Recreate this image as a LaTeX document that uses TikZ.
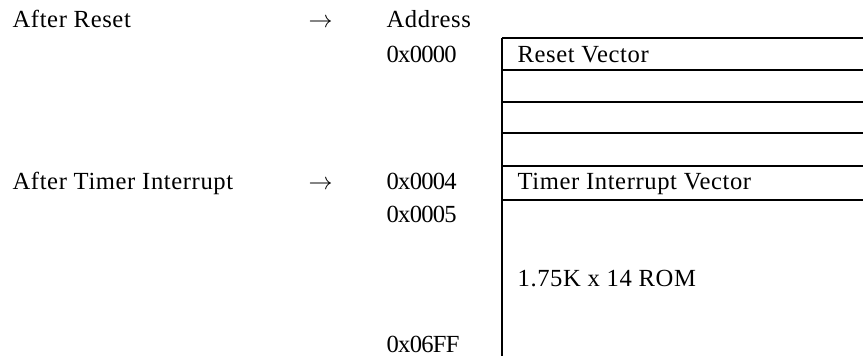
\documentclass[tikz,border=0pt]{standalone}
\usepackage{fontspec}
\setmainfont{Liberation Serif}[LetterSpace=2.5]
\usepackage{tikz}
\usetikzlibrary{positioning}

\begin{document}
\begin{tikzpicture}[
    x = 0.5pt, y = -0.5pt, % one unit per pixel
    semithick % line style
    ]

    \tikzset{
    lbl/.style = {anchor = base west, inner sep = 0pt, font = \fontsize{12.3}{14}\selectfont},
    addrlbl/.style = {lbl, font = \fontsize{12.3}{14}\selectfont\addfontfeature{LetterSpace=-3}},
    rowline/.style = {line width = 0.85pt}
    }

    \useasboundingbox (0,0) rectangle (863,356);

    % left column
    \node[lbl] (reset) at (12,28) {After Reset};
    \node[lbl] (timer) at (12,190) {After Timer Interrupt};
    \node[lbl] (arr1) at (308,28) {$\rightarrow$};
    \node[lbl] (arr2) at (308,190) {$\rightarrow$};

    % addresses
    \node[lbl] (addr) at (386,28) {Address};
    \node[addrlbl] (a0) at (386,63) {0x0000};
    \node[addrlbl] (a4) at (386,190) {0x0004};
    \node[addrlbl] (a5) at (386,223) {0x0005};
    \node[addrlbl] (aend) at (386,353) {0x06FF};

    % memory table
    \coordinate (top) at (502,38);
    \coordinate (bot) at (502,357);
    \draw[rowline] (top) -- (bot);
    \foreach \y in {38,70,102,133,166,200}
        \draw[rowline] (502,\y) -- (864,\y);

    \node[lbl] (rv) at (517,63) {Reset Vector};
    \node[lbl] (tv) at (517,190) {Timer Interrupt Vector};
    \node[lbl] (rom) at (517,287) {1.75K x 14 ROM};
\end{tikzpicture}
\end{document}
